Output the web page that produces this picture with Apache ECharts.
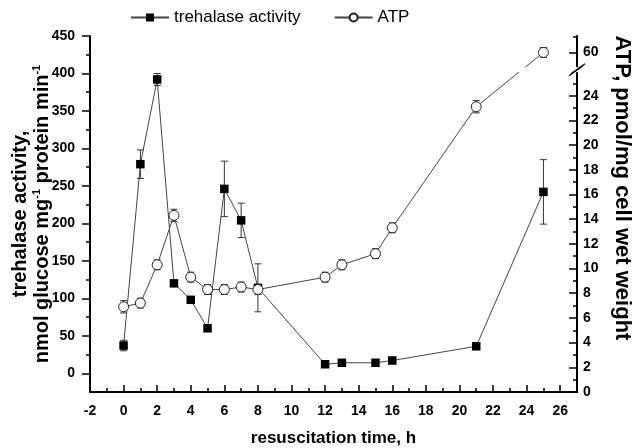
<!DOCTYPE html>
<html>
<head>
<meta charset="utf-8">
<script src="https://cdn.jsdelivr.net/npm/echarts@6/dist/echarts.min.js"></script>
<style>
  html, body { margin: 0; padding: 0; background: #fff; }
  #main { width: 633px; height: 448px; }
</style>
</head>
<body>
<div id="main"></div>
<script>
// resuscitation time, h
var hours = [0, 1, 2, 3, 4, 5, 6, 7, 8, 12, 13, 15, 16, 21, 25];
// trehalase activity, nmol glucose mg-1 protein min-1
var trehalase = [37, 279, 392, 120, 98, 60, 246, 204, 114, 12, 14, 14, 17, 36, 242];
var trehalaseErr = [7, 19, 8, 3, 3, 3, 37, 23, 32, 3, 3, 3, 3, 3, 43];
// ATP, pmol/mg cell wet weight
var atp = [6.9, 7.2, 10.3, 14.3, 9.3, 8.3, 8.3, 8.5, 8.3, 9.3, 10.3, 11.2, 13.3, 23.1, 60];
var atpErr = [0.5, 0.4, 0.4, 0.5, 0.4, 0.4, 0.4, 0.4, 0.4, 0.4, 0.4, 0.4, 0.4, 0.5, 0.4];

var xTickLabels = [-2, 0, 2, 4, 6, 8, 10, 12, 14, 16, 18, 20, 22, 24, 26];
var leftTickLabels = [0, 50, 100, 150, 200, 250, 300, 350, 400, 450];
var rightTickLabels = [0, 2, 4, 6, 8, 10, 12, 14, 16, 18, 20, 22, 24, 60];

// right axis is broken between 26 and 58: values above the break are shifted down
var BREAK_LOW = 26, UPPER_BASE = 27.5;
function atpPos(v) { return v > BREAK_LOW ? UPPER_BASE + (v - 60) : v; }
function atpLabel(p) { return p > BREAK_LOW ? String(Math.round(p - UPPER_BASE + 60)) : String(p); }

var FONT = '"Liberation Sans", Arial, sans-serif';
var X_MIN = -2, X_MAX = 27, L_MIN = -25, L_MAX = 450, R_MIN = 0, R_MAX = 28.83;

var xMinor = [], leftMinor = [], rightMinor = [];
for (var i = -1; i <= 27; i += 2) xMinor.push(i);
for (var j = 25; j < 450; j += 50) leftMinor.push(j);
for (var k = 1; k <= 25; k += 2) rightMinor.push(k);
rightMinor.push(28.8);

var trehData = hours.map(function (h, i) { return [h, trehalase[i]]; });
var trehErrData = hours.map(function (h, i) { return [h, trehalase[i] - trehalaseErr[i], trehalase[i] + trehalaseErr[i]]; });
var atpData = hours.map(function (h, i) { return [h, atpPos(atp[i])]; });
var atpErrData = hours.map(function (h, i) { return [h, atpPos(atp[i] - atpErr[i]), atpPos(atp[i] + atpErr[i])]; });

function renderErr(params, api) {
  var x = api.value(0);
  var lo = api.coord([x, api.value(1)]);
  var hi = api.coord([x, api.value(2)]);
  var w = 3.5;
  var st = { stroke: '#333', lineWidth: 1 };
  return {
    type: 'group',
    children: [
      { type: 'line', shape: { x1: lo[0], y1: lo[1], x2: hi[0], y2: hi[1] }, style: st },
      { type: 'line', shape: { x1: lo[0] - w, y1: lo[1], x2: lo[0] + w, y2: lo[1] }, style: st },
      { type: 'line', shape: { x1: hi[0] - w, y1: hi[1], x2: hi[0] + w, y2: hi[1] }, style: st }
    ]
  };
}

// left, bottom and right axis lines as thin filled bands built from the axis extents
function renderFrame(params, api) {
  var tl = api.coord([X_MIN, L_MAX]);
  var br = api.coord([X_MAX, L_MIN]);
  var t = 1;
  var fill = { fill: '#000' };
  return {
    type: 'group',
    children: [
      { type: 'polygon', shape: { points: [[tl[0] - t, tl[1]], [tl[0] + t, tl[1]], [tl[0] + t, br[1] + t], [tl[0] - t, br[1] + t]] }, style: fill },
      { type: 'polygon', shape: { points: [[tl[0] - t, br[1] - t], [br[0] + t, br[1] - t], [br[0] + t, br[1] + t], [tl[0] - t, br[1] + t]] }, style: fill },
      { type: 'polygon', shape: { points: [[br[0] - t, tl[1]], [br[0] + t, tl[1]], [br[0] + t, br[1] + t], [br[0] - t, br[1] + t]] }, style: fill }
    ]
  };
}

function lineSt() { return { color: '#000', width: 1.5 }; }
// axis that only draws tick marks (the first of each side also its line)
function tickAxis(min, max, pos, ticks, inside, len, withLine) {
  return {
    type: 'value', min: min, max: max, position: pos,
    axisLine: { show: !!withLine, onZero: false, lineStyle: { color: '#000', width: 2, type: 'solid' } },
    axisTick: { show: true, inside: inside, length: len, customValues: ticks, lineStyle: lineSt() },
    axisLabel: { show: false },
    splitLine: { show: false }
  };
}

var myChart = echarts.init(document.getElementById('main'));
myChart.setOption({
  animation: false,
  textStyle: { fontFamily: FONT },
  grid: { left: 90, right: 56, top: 36, bottom: 56, outerBoundsMode: 'none', containLabel: false },
  legend: {
    data: ['trehalase activity', 'ATP'],
    left: 125, top: 4,
    itemWidth: 38, itemHeight: 10, itemGap: 33,
    textStyle: { fontSize: 17, color: '#000', fontFamily: FONT }
  },
  xAxis: [
    {
      type: 'value', min: X_MIN, max: X_MAX, position: 'bottom',
      axisLine: { show: false, onZero: false },
      axisTick: { show: false },
      axisLabel: { customValues: xTickLabels, margin: 12, color: '#000', fontSize: 14, fontWeight: 'bold', fontFamily: FONT },
      splitLine: { show: false },
      name: 'resuscitation time, h', nameLocation: 'middle', nameGap: 38, nameMoveOverlap: false,
      nameTextStyle: { fontSize: 17, fontWeight: 'bold', color: '#000', fontFamily: FONT }
    },
    tickAxis(X_MIN, X_MAX, 'bottom', xTickLabels, true, 7, true),
    tickAxis(X_MIN, X_MAX, 'bottom', xMinor, true, 4, false)
  ],
  yAxis: [
    {
      type: 'value', min: L_MIN, max: L_MAX, position: 'left',
      axisLine: { show: false, onZero: false },
      axisTick: { show: false },
      axisLabel: { customValues: leftTickLabels, margin: 15, color: '#000', fontSize: 14, fontWeight: 'bold', fontFamily: FONT },
      splitLine: { show: false },
      name: '{a|trehalase activity,}\n{a|nmol glucose mg}{s|-1}{a| protein min}{s|-1}',
      nameLocation: 'middle', nameGap: 37, nameRotate: 90, nameMoveOverlap: false,
      nameTextStyle: {
        color: '#000', fontFamily: FONT,
        rich: {
          a: { fontSize: 20, fontWeight: 'bold', lineHeight: 22, color: '#000', fontFamily: FONT },
          s: { fontSize: 11, fontWeight: 'bold', verticalAlign: 'top', color: '#000', fontFamily: FONT }
        }
      }
    },
    tickAxis(L_MIN, L_MAX, 'left', leftTickLabels, false, 8, true),
    tickAxis(L_MIN, L_MAX, 'left', leftMinor, false, 4, false),
    {
      type: 'value', min: R_MIN, max: R_MAX, position: 'right',
      axisLine: { show: false, onZero: false },
      axisTick: { show: false },
      axisLabel: {
        customValues: rightTickLabels.map(atpPos), margin: 6,
        color: '#000', fontSize: 14, fontWeight: 'bold', fontFamily: FONT,
        formatter: function (v) { return atpLabel(v); }
      },
      splitLine: { show: false },
      name: 'ATP, pmol/mg cell wet weight',
      nameLocation: 'middle', nameGap: 34, nameRotate: -90, nameMoveOverlap: false,
      nameTextStyle: { fontSize: 22, fontWeight: 'bold', color: '#000', fontFamily: FONT, padding: [0, 52, 0, 0] }
    },
    tickAxis(R_MIN, R_MAX, 'right', rightTickLabels.map(atpPos), true, 8, true),
    tickAxis(R_MIN, R_MAX, 'right', rightMinor, true, 4, false)
  ],
  series: [
    {
      name: 'frame', type: 'custom', xAxisIndex: 0, yAxisIndex: 0,
      renderItem: renderFrame, data: [[X_MIN, L_MIN]], clip: false, z: 5, silent: true
    },
    {
      name: 'trehalase err', type: 'custom', xAxisIndex: 0, yAxisIndex: 0,
      renderItem: renderErr, data: trehErrData, encode: { x: 0, y: [1, 2] }, z: 1, silent: true
    },
    {
      name: 'ATP err', type: 'custom', xAxisIndex: 0, yAxisIndex: 3,
      renderItem: renderErr, data: atpErrData, encode: { x: 0, y: [1, 2] }, z: 1, silent: true
    },
    {
      name: 'trehalase activity', type: 'line', xAxisIndex: 0, yAxisIndex: 0,
      data: trehData, symbol: 'rect', symbolSize: 8.5, z: 3,
      lineStyle: { color: '#444', width: 1 },
      itemStyle: { color: '#000' }
    },
    {
      name: 'ATP', type: 'line', xAxisIndex: 0, yAxisIndex: 3,
      data: atpData, symbol: 'circle', symbolSize: 10, z: 3,
      lineStyle: { color: '#444', width: 1 },
      itemStyle: { color: '#fff', borderColor: '#222', borderWidth: 1 }
    }
  ]
});

// break marks on the right axis and the gap in the ATP line (own top layer)
var xr = myChart.convertToPixel({ xAxisIndex: 0 }, X_MAX);
var yb = myChart.convertToPixel({ yAxisIndex: 3 }, 26.1);
var pA = myChart.convertToPixel({ xAxisIndex: 0, yAxisIndex: 3 }, atpData[13]);
var pB = myChart.convertToPixel({ xAxisIndex: 0, yAxisIndex: 3 }, atpData[14]);
var f = (pA[1] - yb) / (pA[1] - pB[1]);
var cx = pA[0] + f * (pB[0] - pA[0]);
var cy = pA[1] + f * (pB[1] - pA[1]);
var len = Math.sqrt(Math.pow(pB[0] - pA[0], 2) + Math.pow(pB[1] - pA[1], 2));
var ux = (pB[0] - pA[0]) / len, uy = (pB[1] - pA[1]) / len;
var brk = { stroke: '#000', lineWidth: 1.3 };
myChart.setOption({
  graphic: [
    { type: 'rect', zlevel: 1, z: 2, shape: { x: xr - 2, y: yb - 2.5, width: 4, height: 5 }, style: { fill: '#fff' } },
    { type: 'line', zlevel: 1, z: 3, shape: { x1: xr - 8, y1: yb + 6, x2: xr + 6, y2: yb - 4 }, style: brk },
    { type: 'line', zlevel: 1, z: 3, shape: { x1: xr - 6, y1: yb + 4, x2: xr + 8, y2: yb - 6 }, style: brk },
    { type: 'line', zlevel: 1, z: 2, shape: { x1: cx - 4 * ux, y1: cy - 4 * uy, x2: cx + 4 * ux, y2: cy + 4 * uy }, style: { stroke: '#fff', lineWidth: 3 } }
  ]
});
</script>
</body>
</html>
